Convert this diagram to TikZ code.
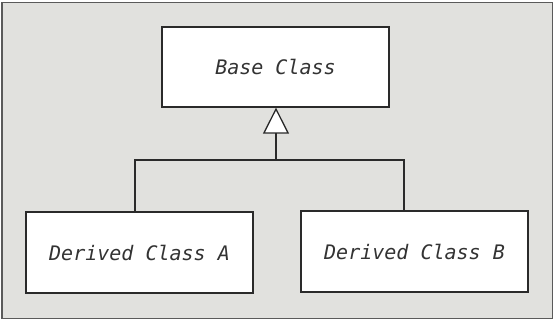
\documentclass[tikz,border=0pt]{standalone}
\usepackage{fontspec}
\setmonofont{DejaVu Sans Mono}
\usepackage{tikz}
\usetikzlibrary{arrows.meta}
\usetikzlibrary{positioning}
\definecolor{cd-back}{HTML}{E1E1DE}
\definecolor{cd-frame}{HTML}{5A5A5A}
\definecolor{cd-line}{HTML}{2A2A2A}
\definecolor{cd-text}{HTML}{333333}

\begin{document}
\begin{tikzpicture}[x=1pt, y=-1pt,
    classbox/.style={draw=cd-line, fill=white, line width=1.3pt, minimum width=227pt,
        minimum height=80pt, inner sep=0pt, font=\fontsize{20}{23}\selectfont\ttfamily\itshape,
        text=cd-text},
    link/.style={draw=cd-line, line width=1.3pt}]
    % --- Background and frame ---
    \useasboundingbox (0, 0) rectangle (555, 321);
    \draw[cd-frame, fill=cd-back, line width=1.8pt] (2, 2.5) rectangle (552.5, 318.5);

    % --- Classes ---
    \node[classbox] (base) at (275.5, 67) {Base Class};
    \node[classbox, minimum height=81pt] (derivedA) at (139.5, 252.5) {Derived Class A};
    \node[classbox, minimum height=81pt] (derivedB) at (414.5, 251.5) {Derived Class B};

    % --- Inheritance ---
    \coordinate (join) at (276, 160);
    \draw[link] (join) -| ([xshift=-4.5pt]derivedA.north);
    \draw[link] (join) -| ([xshift=-10.5pt]derivedB.north);
    \draw[link, -{Triangle[length=26pt, width=26pt, fill=white]}]
        (join) -- (join |- base.south);
\end{tikzpicture}
\end{document}
